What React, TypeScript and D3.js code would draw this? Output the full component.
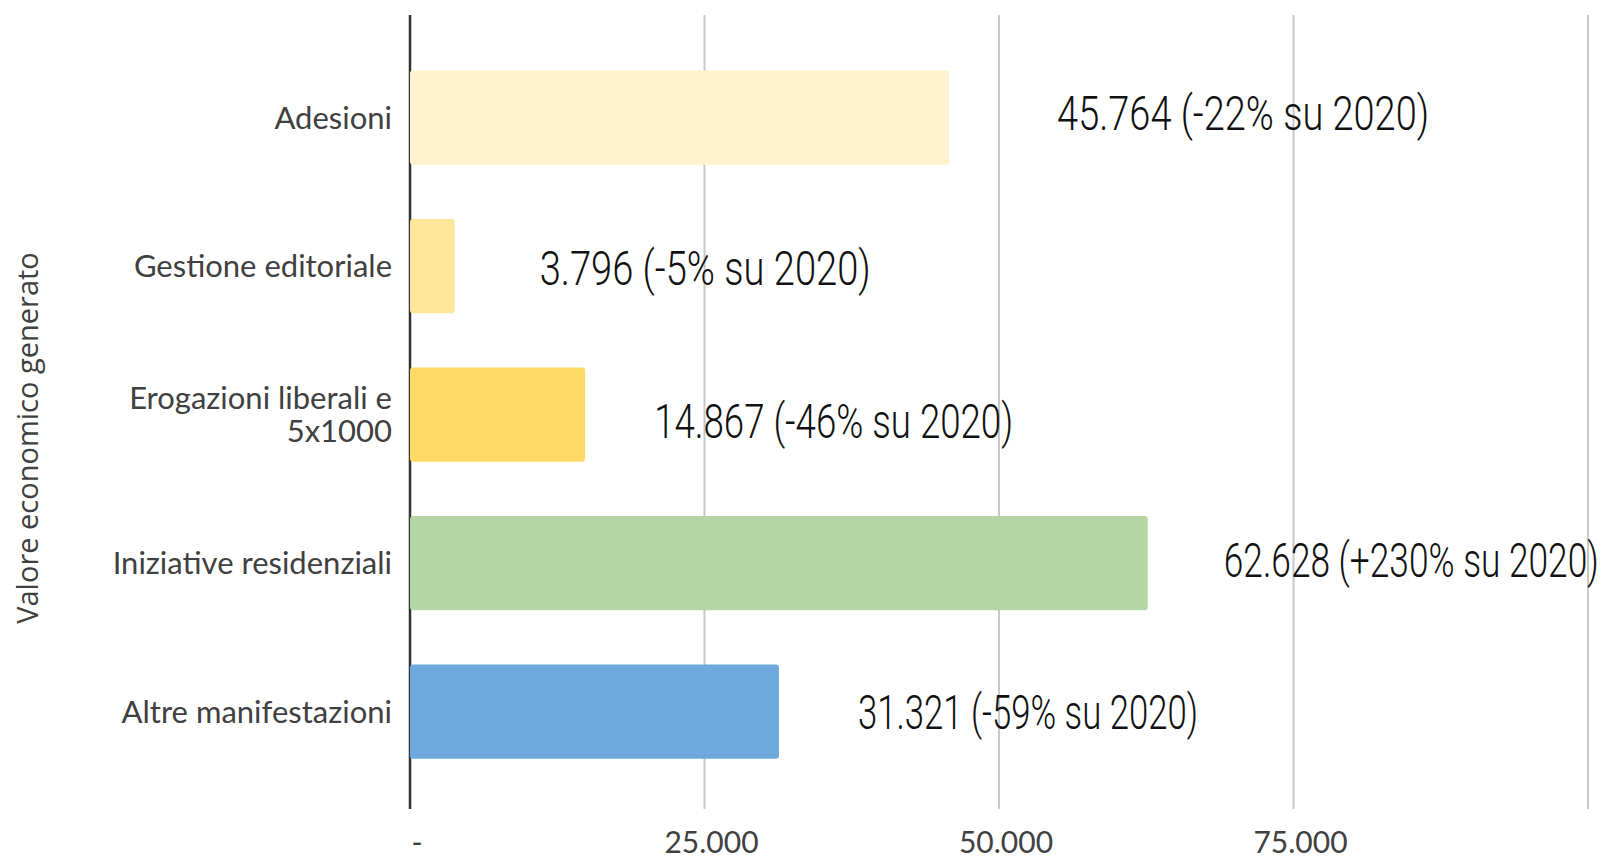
import React from "react";
import * as d3 from "d3";

const categories = [
  "Adesioni",
  "Gestione editoriale",
  "Erogazioni liberali e 5x1000",
  "Iniziative residenziali",
  "Altre manifestazioni",
];
const categoryLines = [
  ["Adesioni"],
  ["Gestione editoriale"],
  ["Erogazioni liberali e", "5x1000"],
  ["Iniziative residenziali"],
  ["Altre manifestazioni"],
];
const values = [45764, 3796, 14867, 62628, 31321];
const changes = ["-22%", "-5%", "-46%", "+230%", "-59%"];
const valueLabels = [
  "45.764 (-22% su 2020)",
  "3.796 (-5% su 2020)",
  "14.867 (-46% su 2020)",
  "62.628 (+230% su 2020)",
  "31.321 (-59% su 2020)",
];
const tickValues = [0, 25000, 50000, 75000, 100000];
const tickLabels = ["-", "25.000", "50.000", "75.000"];
const axisTitle = "Valore economico generato";

// styles / layout (kept apart from data)
const barColors = ["#FFF2CC", "#FFE699", "#FFD966", "#B4D6A6", "#6FA8DC"];
const labelDx = [108, 85, 69, 76, 79];
const labelDy = [-5, 1, 6, -4, 0];
const labelWidths = [372, 331, 359, 375, 340];

const W = 1605;
const H = 857;

export default function App() {
  const x = d3.scaleLinear().domain([0, 100000]).range([410, 1588]);
  const y = d3
    .scaleBand<string>()
    .domain(categories)
    .range([43.4, 785.9])
    .paddingInner(0.365)
    .paddingOuter(0.1825);
  const bw = y.bandwidth();
  const top = 15;
  const bottom = 809;

  return (
    <svg
      width={W}
      height={H}
      viewBox={`0 0 ${W} ${H}`}
      style={{ position: "absolute", left: 0, top: 0, display: "block", background: "#fff" }}
    >
      {/* gridlines */}
      {tickValues.slice(1).map((t) => (
        <line
          key={t}
          x1={x(t)}
          x2={x(t)}
          y1={top}
          y2={bottom}
          stroke="#C8C8C8"
          strokeWidth={2}
        />
      ))}
      {/* axis line */}
      <line x1={x(0)} x2={x(0)} y1={top} y2={bottom} stroke="#333" strokeWidth={2.5} />
      {/* bars */}
      {categories.map((c, i) => (
        <rect
          key={c}
          x={x(0)}
          y={y(c)}
          width={x(values[i]) - x(0)}
          height={bw}
          rx={3}
          ry={3}
          fill={barColors[i]}
        />
      ))}
      {/* category labels */}
      {categories.map((c, i) => {
        const lines = categoryLines[i];
        const cy = (y(c) as number) + bw / 2;
        const lh = 33;
        const start = cy - ((lines.length - 1) * lh) / 2;
        return (
          <text
            key={c}
            textAnchor="end"
            fontFamily="Lato, 'Open Sans', sans-serif"
            fontSize={31}
            fill="#404040"
          >
            {lines.map((l, j) => (
              <tspan key={j} x={392} y={start + j * lh} dy="0.35em">
                {l}
              </tspan>
            ))}
          </text>
        );
      })}
      {/* value labels */}
      {categories.map((c, i) => {
        const lx = x(values[i]) + labelDx[i];
        const ly = (y(c) as number) + bw / 2 + labelDy[i];
        return (
          <text
            key={c}
            x={lx}
            y={ly}
            dy="0.36em"
            textLength={labelWidths[i]}
            lengthAdjust="spacingAndGlyphs"
            fontFamily="Roboto, sans-serif"
            fontWeight={300}
            fontSize={49}
            fill="#111"
          >
            {valueLabels[i]}
          </text>
        );
      })}
      {/* tick labels */}
      {tickLabels.map((t, i) => (
        <text
          key={t}
          x={x(tickValues[i]) + 7}
          y={853}
          textAnchor="middle"
          fontFamily="Lato, 'Open Sans', sans-serif"
          fontSize={30}
          fill="#404040"
        >
          {t}
        </text>
      ))}
      {/* axis title */}
      <text
        transform={`translate(38,438) rotate(-90)`}
        textAnchor="middle"
        fontFamily="'Open Sans', sans-serif"
        fontSize={29}
        fill="#404040"
      >
        {axisTitle}
      </text>
    </svg>
  );
}
